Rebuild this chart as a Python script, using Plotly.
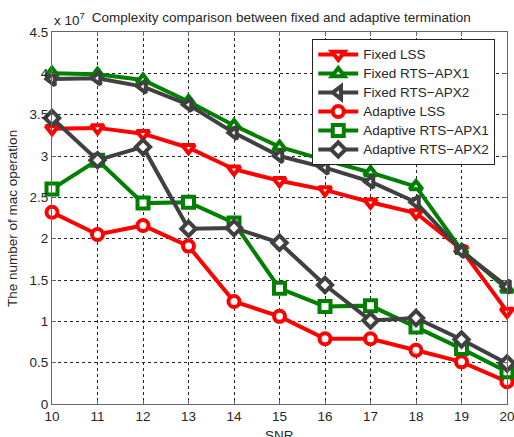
import plotly.graph_objects as go

snr = [10, 11, 12, 13, 14, 15, 16, 17, 18, 19, 20]
# values in units of 1e7 mac operations
fixed_lss = [3.33, 3.34, 3.27, 3.10, 2.84, 2.70, 2.59, 2.44, 2.31, 1.87, 1.12]
fixed_apx1 = [4.00, 3.99, 3.92, 3.66, 3.37, 3.11, 2.95, 2.80, 2.63, 1.86, 1.39]
fixed_apx2 = [3.93, 3.94, 3.84, 3.62, 3.28, 3.00, 2.86, 2.69, 2.44, 1.85, 1.42]
adapt_lss = [2.32, 2.05, 2.16, 1.91, 1.24, 1.06, 0.79, 0.79, 0.65, 0.51, 0.27]
adapt_apx1 = [2.60, 2.95, 2.43, 2.44, 2.19, 1.40, 1.18, 1.19, 0.93, 0.67, 0.39]
adapt_apx2 = [3.46, 2.95, 3.11, 2.12, 2.13, 1.95, 1.44, 1.01, 1.04, 0.78, 0.49]

names = ["Fixed LSS", "Fixed RTS\u2212APX1", "Fixed RTS\u2212APX2",
         "Adaptive LSS", "Adaptive RTS\u2212APX1", "Adaptive RTS\u2212APX2"]
series = [fixed_lss, fixed_apx1, fixed_apx2, adapt_lss, adapt_apx1, adapt_apx2]
colors = ["#FF0000", "#007F00", "#404040", "#FF0000", "#007F00", "#404040"]
symbols = ["triangle-down", "triangle-up", "triangle-left", "circle", "square", "diamond"]

fig = go.Figure()
for name, vals, col, sym in zip(names, series, colors, symbols):
    fig.add_trace(go.Scatter(
        x=snr, y=vals, mode="lines+markers",
        name='<span style="font-size:13.5px">' + name + '</span>',
        line=dict(color=col, width=4),
        marker=dict(symbol=sym, size=11, color="white",
                    line=dict(color=col, width=4)),
        cliponaxis=False,
    ))

font = "Liberation Sans, Arial, sans-serif"
txtcol = "#262626"
axis_common = dict(
    showline=True, linecolor="#666666", linewidth=1, mirror="ticks",
    ticks="inside", ticklen=4, tickcolor="#666666",
    showgrid=True, gridcolor="#222222", griddash="dot", gridwidth=1,
    zeroline=False, automargin=False, ticklabeloverflow="allow",
    tickfont=dict(family=font, size=13.5, color=txtcol),
)
fig.update_layout(
    width=514, height=437,
    margin=dict(l=52, r=7, t=32, b=33),
    paper_bgcolor="white", plot_bgcolor="white",
    font=dict(family=font, size=13, color=txtcol),
    title=dict(text="Complexity comparison between fixed and adaptive termination",
               x=0.504, xref="paper", xanchor="center",
               y=1 - 17 / 437, yref="container", yanchor="middle",
               font=dict(family=font, size=13.5, color=txtcol)),
    xaxis=dict(range=[10, 20], dtick=1, **axis_common),
    yaxis=dict(range=[0, 4.5], dtick=0.5, **axis_common),
    showlegend=True,
    legend=dict(x=0.572, y=0.981, xanchor="left", yanchor="top",
                bgcolor="white", bordercolor="#222222", borderwidth=1,
                font=dict(family=font, size=12, color=txtcol),
                tracegroupgap=0, itemwidth=40),
    annotations=[
        dict(text="x 10<sup>7</sup>", xref="paper", yref="paper",
             x=0.0, y=1.0, xanchor="left", yanchor="bottom", showarrow=False,
             yshift=2, font=dict(family=font, size=13.5, color=txtcol)),
        dict(text="The number of mac operation", xref="paper", yref="paper",
             x=-0.088, y=0.5, textangle=-90, xanchor="center", yanchor="middle",
             showarrow=False, font=dict(family=font, size=13.5, color=txtcol)),
        dict(text="SNR", xref="paper", yref="paper",
             x=0.5, y=0, yshift=-31, xanchor="center", yanchor="middle",
             showarrow=False, font=dict(family=font, size=13.5, color=txtcol)),
    ],
)
fig.write_html("out.html", config={"displayModeBar": False},
               post_script="document.body.style.margin='0';document.body.style.overflow='hidden';")
